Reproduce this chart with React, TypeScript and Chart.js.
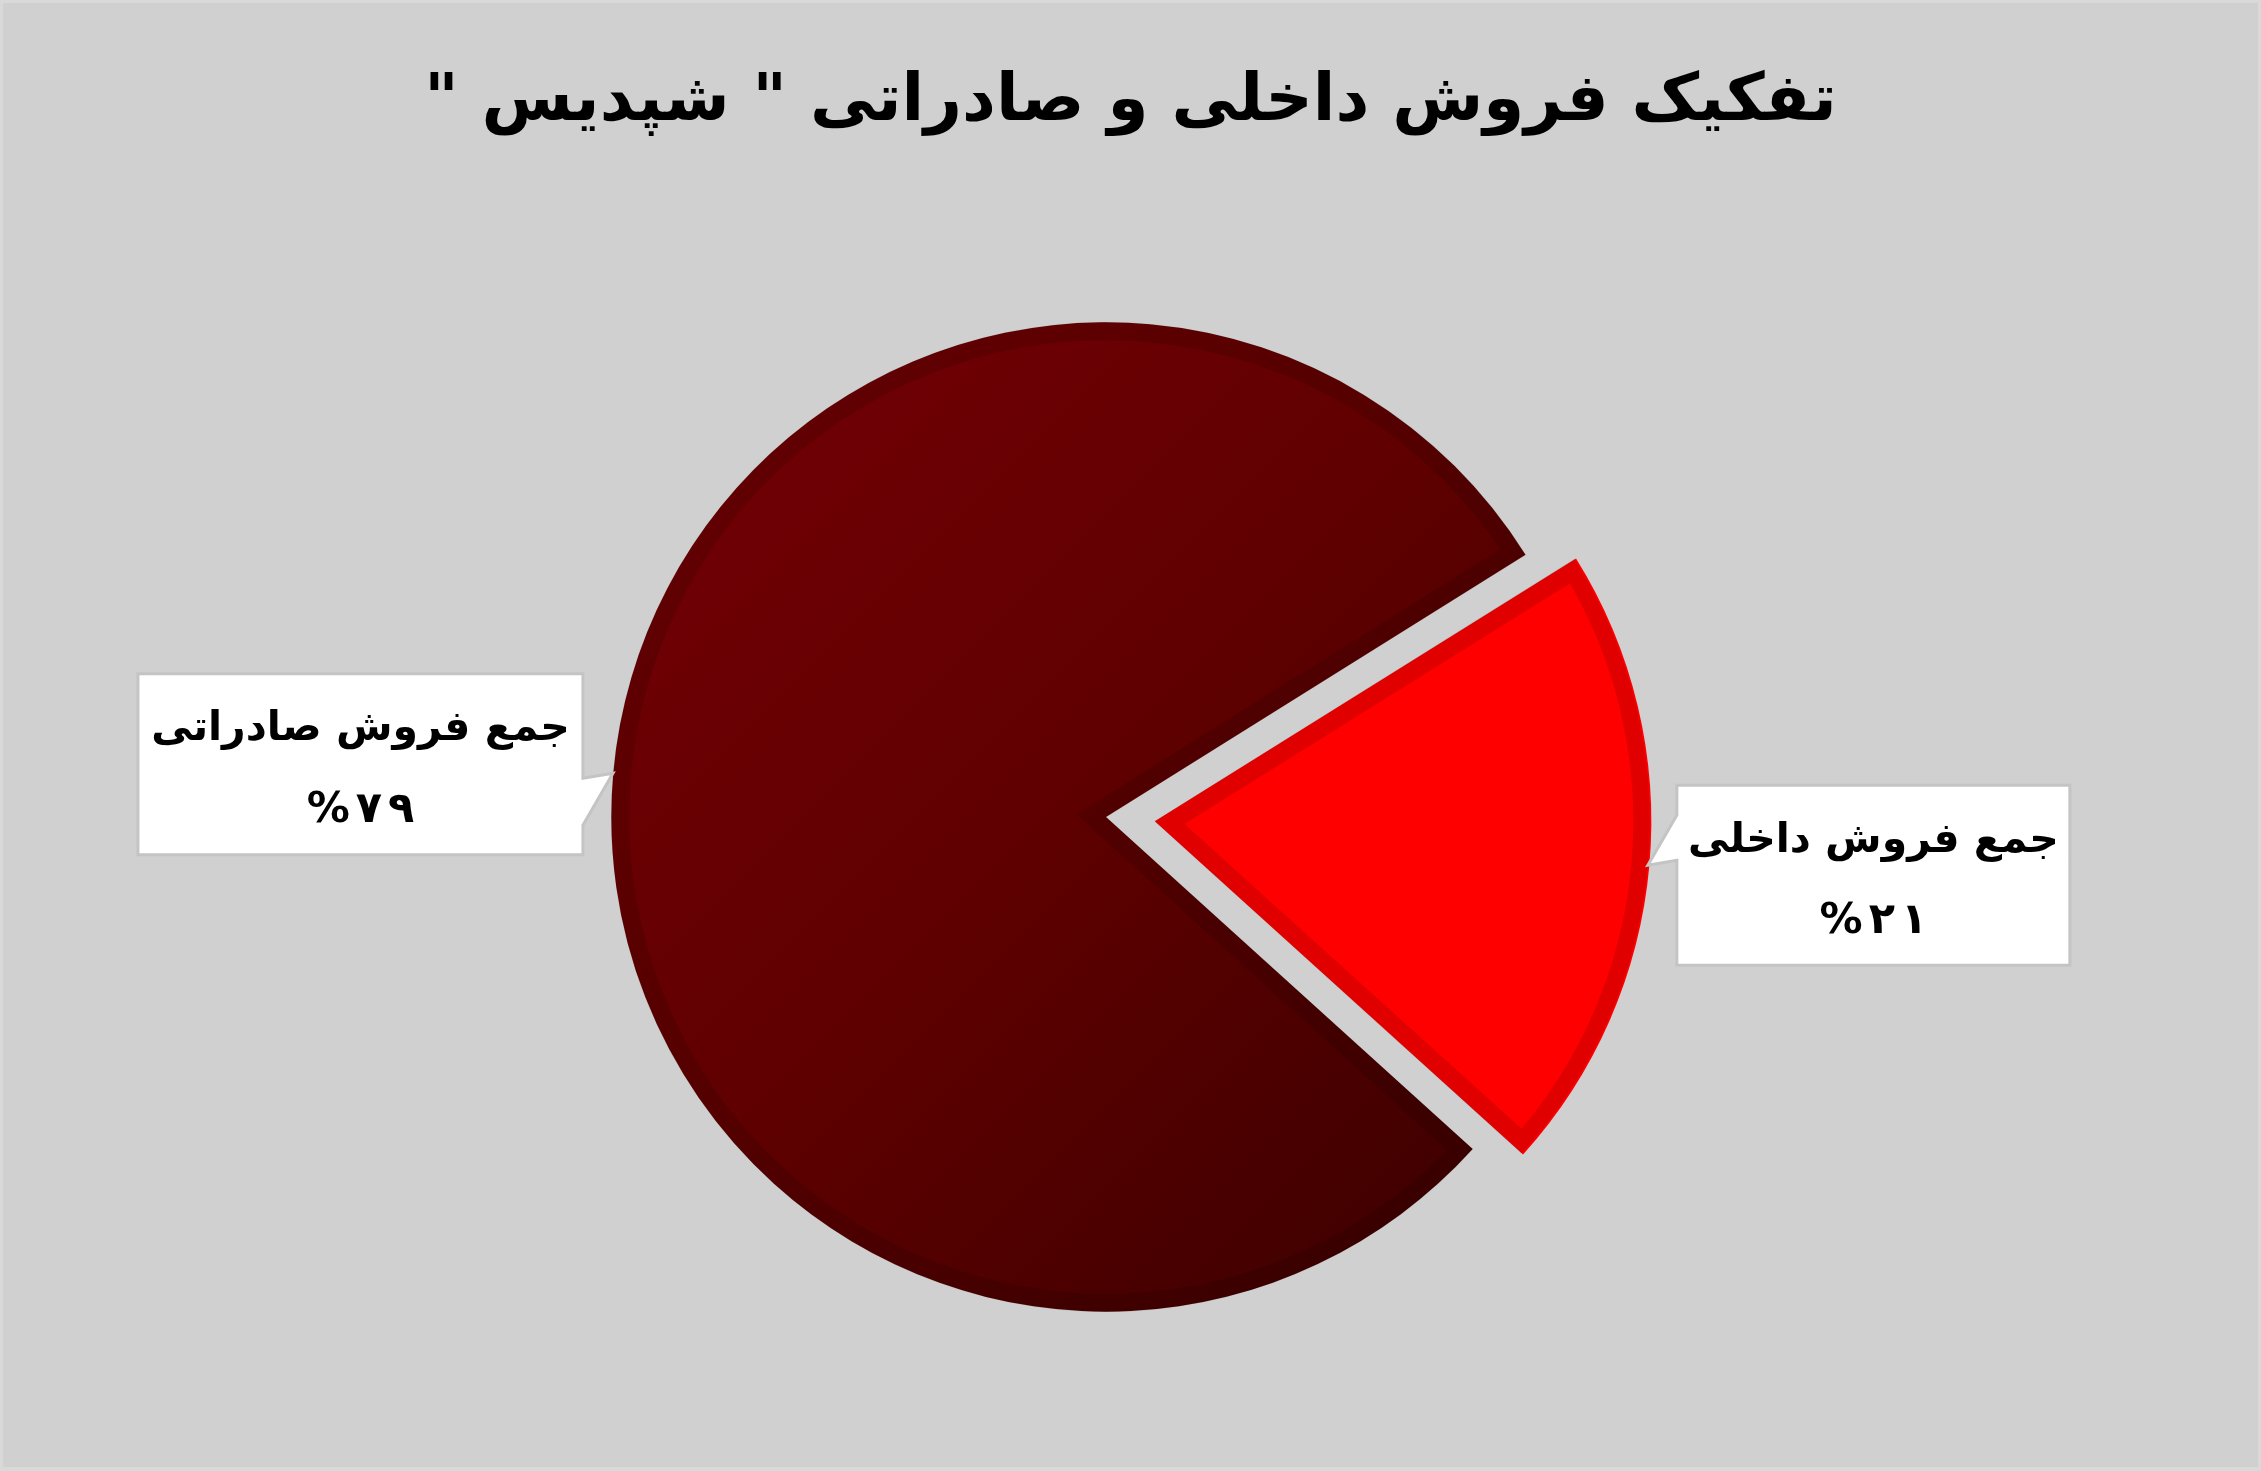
import { useEffect, useRef } from "react";
import { Chart, PieController, ArcElement } from "chart.js";

Chart.register(PieController, ArcElement);

// chart data
const title = 'تفکیک فروش داخلی و صادراتی " شپدیس "';
const categories = ["جمع فروش داخلی", "جمع فروش صادراتی"];
const shares = [20.6, 79.4];

const FONT = '"DejaVu Sans", "Noto Sans", sans-serif';
const PIE_RADIUS = 495;
const EXPLODE = 49; // px the domestic slice is pulled out

// callout boxes, placed relative to the tip on the slice edge
const callouts = [
  { side: "right", gap: 29, dy: 10, w: 393, h: 180, base: [-50, -5] },
  { side: "left", gap: 30, dy: -9, w: 445, h: 181, base: [5, 52] },
];

const toPersian = (n: number) =>
  String(n).replace(/\d/g, (d) => "۰۱۲۳۴۵۶۷۸۹"[+d]);

// draws characters one by one left to right with a fixed gap, centred on cx
const drawSpaced = (ctx: CanvasRenderingContext2D, text: string, cx: number, cy: number, gap: number) => {
  const chars = Array.from(text);
  const widths = chars.map((ch) => ctx.measureText(ch).width);
  const total = widths.reduce((a, b) => a + b, 0) + gap * (chars.length - 1);
  let x = cx - total / 2;
  ctx.textAlign = "left";
  chars.forEach((ch, k) => {
    ctx.fillText(ch, x, cy);
    x += widths[k] + gap;
  });
};

const backgroundPlugin = {
  id: "bg",
  beforeDraw(chart: any) {
    const { ctx, width, height } = chart;
    ctx.save();
    ctx.fillStyle = "#d0d0d0";
    ctx.fillRect(0, 0, width, height);
    ctx.restore();
  },
};

const titlePlugin = {
  id: "rtlTitle",
  afterDraw(chart: any) {
    const ctx = chart.ctx;
    ctx.save();
    ctx.direction = "rtl";
    ctx.textAlign = "center";
    ctx.textBaseline = "middle";
    ctx.font = `bold 66px ${FONT}`;
    ctx.fillStyle = "#000";
    ctx.fillText(title, chart.width / 2, 100);
    ctx.restore();
  },
};

const calloutPlugin = {
  id: "callouts",
  afterDatasetsDraw(chart: any) {
    const ctx = chart.ctx;
    const meta = chart.getDatasetMeta(0);
    meta.data.forEach((arc: any, i: number) => {
      const { x, y, startAngle, endAngle, outerRadius } = arc.getProps(
        ["x", "y", "startAngle", "endAngle", "outerRadius"],
        true
      );
      const off = (arc.options.offset || 0) / 4;
      const mid = (startAngle + endAngle) / 2;
      const tx = x + Math.cos(mid) * (off + outerRadius);
      const ty = y + Math.sin(mid) * (off + outerRadius);
      const c = callouts[i];
      const left = c.side === "right" ? tx + c.gap : tx - c.gap - c.w;
      const top = ty + c.dy - c.h / 2;
      const right = left + c.w;
      const bottom = top + c.h;

      ctx.save();
      ctx.beginPath();
      if (c.side === "right") {
        ctx.moveTo(left, top);
        ctx.lineTo(right, top);
        ctx.lineTo(right, bottom);
        ctx.lineTo(left, bottom);
        ctx.lineTo(left, ty + c.base[1]);
        ctx.lineTo(tx, ty);
        ctx.lineTo(left, ty + c.base[0]);
      } else {
        ctx.moveTo(left, top);
        ctx.lineTo(right, top);
        ctx.lineTo(right, ty + c.base[0]);
        ctx.lineTo(tx, ty);
        ctx.lineTo(right, ty + c.base[1]);
        ctx.lineTo(right, bottom);
        ctx.lineTo(left, bottom);
      }
      ctx.closePath();
      ctx.fillStyle = "#ffffff";
      ctx.fill();
      ctx.lineWidth = 3;
      ctx.lineJoin = "miter";
      ctx.strokeStyle = "#c4c4c4";
      ctx.stroke();

      const cx = (left + right) / 2;
      ctx.fillStyle = "#000";
      ctx.textAlign = "center";
      ctx.textBaseline = "middle";
      ctx.font = `bold 41px ${FONT}`;
      ctx.direction = "rtl";
      ctx.fillText(categories[i], cx, top + c.h * 0.31);
      ctx.direction = "ltr";
      ctx.font = `bold 43px ${FONT}`;
      drawSpaced(
        ctx,
        `%${toPersian(Math.round(shares[i]))}`,
        cx,
        top + c.h * 0.76,
        6
      );
      ctx.restore();
    });
  },
};

const App = () => {
  const canvasRef = useRef<HTMLCanvasElement | null>(null);

  useEffect(() => {
    if (!canvasRef.current) return;

    const chart = new Chart(canvasRef.current, {
      type: "pie",
      data: {
        labels: categories,
        datasets: [
          {
            data: shares,
            backgroundColor: (c: any) => {
              if (c.dataIndex === 0) return "#ff0000";
              const area = c.chart.chartArea;
              if (!area) return "#600000";
              const cx = (area.left + area.right) / 2;
              const cy = (area.top + area.bottom) / 2;
              const g = c.chart.ctx.createLinearGradient(
                cx - PIE_RADIUS,
                cy - PIE_RADIUS,
                cx + PIE_RADIUS,
                cy + PIE_RADIUS
              );
              g.addColorStop(0, "#750006");
              g.addColorStop(0.46, "#600000");
              g.addColorStop(0.78, "#470000");
              g.addColorStop(1, "#380000");
              return g;
            },
            borderColor: "rgba(0,0,0,0.12)",
            borderWidth: 18,
            borderAlign: "inner",
            borderJoinStyle: "miter",
            offset: [EXPLODE * 4, 0],
            radius: PIE_RADIUS,
          } as any,
        ],
      },
      options: {
        animation: false,
        responsive: true,
        maintainAspectRatio: false,
        rotation: 58,
        events: [],
        layout: { padding: { left: 0, right: 49, top: 164, bottom: 0 } },
        plugins: {
          legend: { display: false },
          tooltip: { enabled: false },
        },
      } as any,
      plugins: [backgroundPlugin, calloutPlugin, titlePlugin],
    });

    return () => {
      chart.destroy();
    };
  }, []);

  return (
    <div
      style={{
        position: "fixed",
        left: 0,
        top: 0,
        width: 2261,
        height: 1471,
        background: "#d9d9d9",
      }}
    >
      <div
        style={{
          position: "absolute",
          left: 3,
          top: 3,
          width: 2255,
          height: 1464,
        }}
      >
        <canvas ref={canvasRef}></canvas>
      </div>
    </div>
  );
};

export default App;
